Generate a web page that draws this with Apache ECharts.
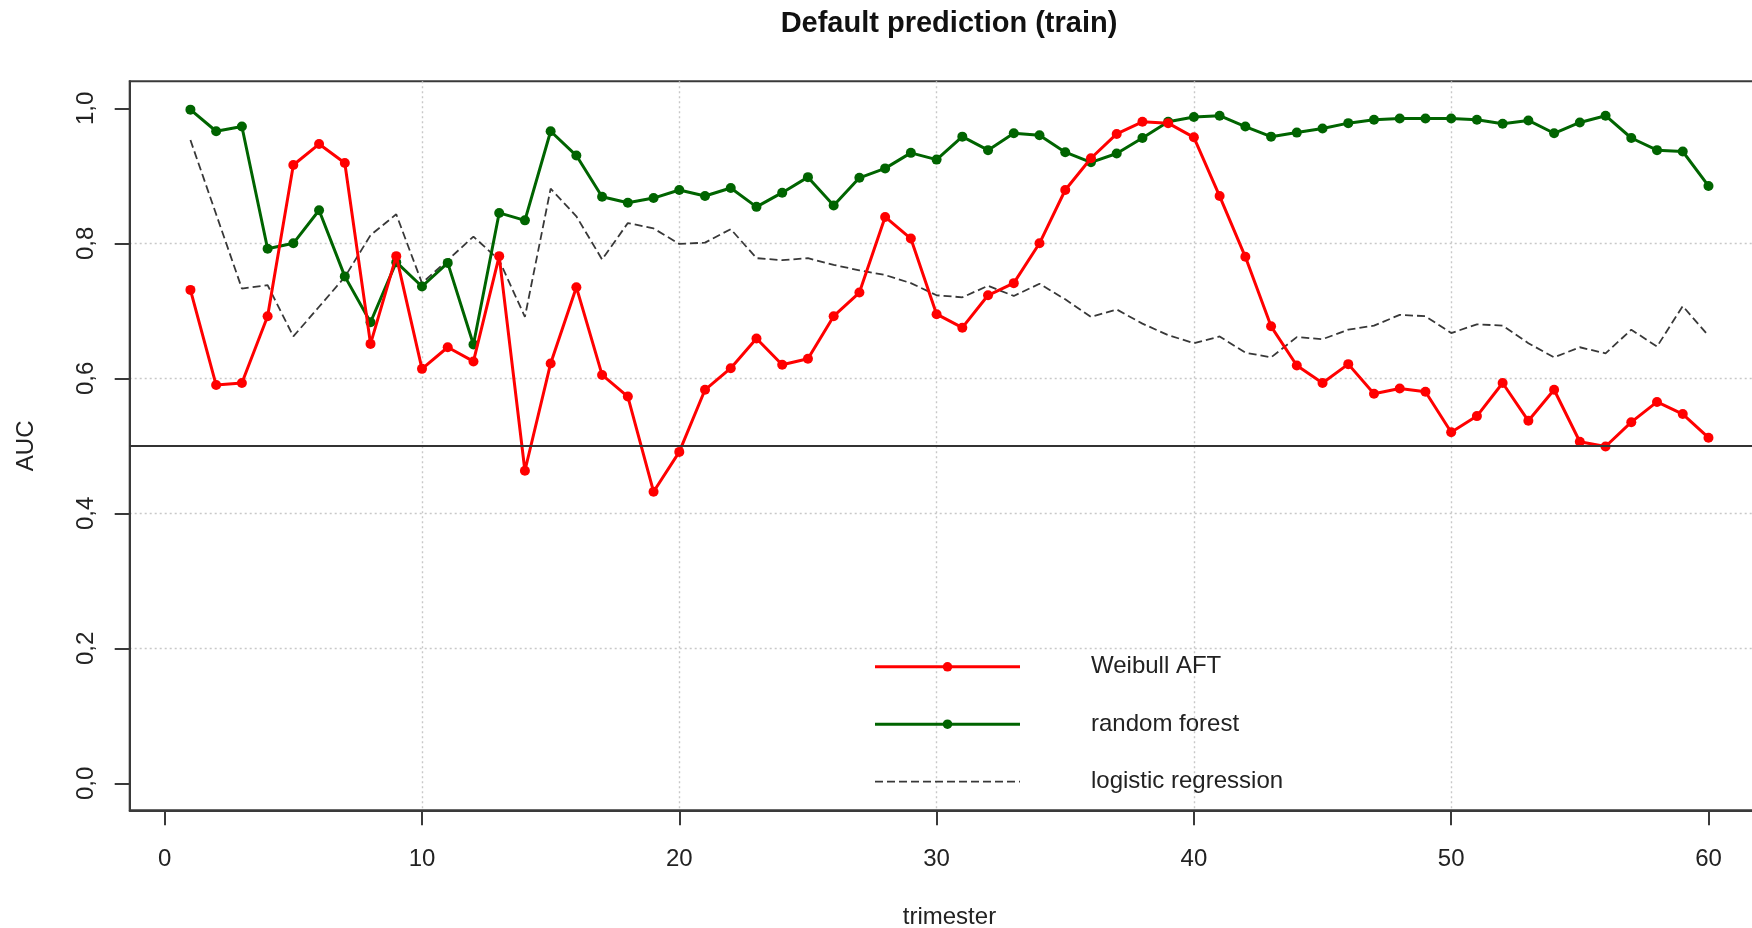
<!DOCTYPE html>
<html>
<head>
<meta charset="utf-8">
<script src="https://cdn.jsdelivr.net/npm/echarts@6/dist/echarts.min.js"></script>
<style>
html,body{margin:0;padding:0;background:#ffffff;}
#chart{width:1752px;height:928px;}
</style>
</head>
<body>
<div id="chart"></div>
<script>
const trimester = [1,2,3,4,5,6,7,8,9,10,11,12,13,14,15,16,17,18,19,20,21,22,23,24,25,26,27,28,29,30,31,32,33,34,35,36,37,38,39,40,41,42,43,44,45,46,47,48,49,50,51,52,53,54,55,56,57,58,59,60];

const weibullAFT = [0.731,0.590,0.593,0.692,0.916,0.947,0.919,0.651,0.781,0.614,
  0.646,0.625,0.781,0.463,0.622,0.735,0.605,0.573,0.432,0.491,
  0.583,0.615,0.659,0.620,0.629,0.692,0.727,0.839,0.807,0.695,
  0.675,0.723,0.741,0.800,0.879,0.926,0.962,0.980,0.978,0.957,
  0.870,0.780,0.677,0.619,0.593,0.621,0.577,0.585,0.580,0.520,
  0.544,0.593,0.537,0.583,0.506,0.499,0.535,0.565,0.547,0.512];

const randomForest = [0.998,0.966,0.973,0.792,0.800,0.849,0.751,0.683,0.772,0.736,
  0.771,0.650,0.845,0.834,0.966,0.930,0.869,0.860,0.867,0.879,
  0.870,0.882,0.854,0.875,0.898,0.856,0.897,0.911,0.934,0.924,
  0.958,0.938,0.963,0.960,0.935,0.920,0.933,0.956,0.980,0.987,
  0.989,0.973,0.958,0.964,0.970,0.978,0.983,0.985,0.985,0.985,
  0.983,0.977,0.982,0.963,0.979,0.989,0.956,0.938,0.936,0.885];

const logisticRegression = [0.953,0.843,0.733,0.738,0.662,0.706,0.750,0.812,0.843,0.741,
  0.775,0.810,0.775,0.691,0.881,0.840,0.776,0.830,0.822,0.799,
  0.801,0.821,0.778,0.775,0.778,0.768,0.760,0.753,0.741,0.723,
  0.720,0.737,0.722,0.740,0.717,0.691,0.702,0.681,0.664,0.652,
  0.662,0.638,0.631,0.661,0.658,0.672,0.678,0.694,0.692,0.667,
  0.680,0.678,0.652,0.631,0.646,0.637,0.672,0.647,0.707,0.663];

const xTicks = [0,10,20,30,40,50,60];
const yTicks = [0,0.2,0.4,0.6,0.8,1.0];
const referenceLine = 0.5;
const seriesNames = ['Weibull AFT','random forest','logistic regression'];

const FONT = '"Liberation Sans", Arial, sans-serif';
const pair = arr => trimester.map((t, i) => [t, arr[i]]);
const gridLine = {color:'#c8c8c8', width:1.4, type:[2,3]};
const axisColor = '#3a3a3a';

const chart = echarts.init(document.getElementById('chart'), null, {renderer:'canvas'});
chart.setOption({
  animation:false,
  backgroundColor:'#ffffff',
  title:{
    text:'Default prediction (train)',
    left:944, top:4, textAlign:'center',
    textStyle:{fontFamily:FONT, fontSize:29, fontWeight:'bold', color:'#111'}
  },
  legend:{
    data:[
      {name:seriesNames[0]},
      {name:seriesNames[1]},
      {name:seriesNames[2], itemStyle:{opacity:0}}
    ],
    orient:'vertical',
    left:868.5, top:649.8,
    itemWidth:145, itemHeight:12, itemGap:33.4,
    selectedMode:false,
    lineStyle:{width:'inherit'},
    textStyle:{fontFamily:FONT, fontSize:24, color:'#222', padding:[0,0,0,66]}
  },
  grid:{
    left:129.7, right:-17.2, top:81.3, bottom:117.7,
    show:true, borderColor:axisColor, borderWidth:2, backgroundColor:'transparent',
    containLabel:false, outerBoundsMode:'none'
  },
  xAxis:{
    type:'value', min:-1.36, max:62.36,
    name:'trimester', nameLocation:'middle', nameGap:95,
    nameTextStyle:{fontFamily:FONT, fontSize:24, color:'#222'},
    axisLine:{show:true, onZero:false, lineStyle:{color:axisColor, width:2}},
    axisTick:{show:true, length:15, customValues:xTicks, lineStyle:{color:axisColor, width:2}},
    axisLabel:{customValues:xTicks, margin:37, fontFamily:FONT, fontSize:24, color:'#222'},
    splitLine:{show:true, showMinLine:false, showMaxLine:false, lineStyle:gridLine}
  },
  yAxis:{
    type:'value', min:-0.04, max:1.04,
    name:'AUC', nameLocation:'middle', nameGap:91.7, nameRotate:90,
    nameTextStyle:{fontFamily:FONT, fontSize:24, color:'#222'},
    axisLine:{show:true, onZero:false, lineStyle:{color:axisColor, width:2}},
    axisTick:{show:true, length:15, customValues:yTicks, lineStyle:{color:axisColor, width:2}},
    axisLabel:{customValues:yTicks, rotate:90, margin:31.5, fontFamily:FONT, fontSize:24, color:'#222',
      formatter: v => v.toFixed(1).replace('.', ',')},
    splitLine:{show:true, showMinLine:false, showMaxLine:false, lineStyle:gridLine}
  },
  series:[
    {
      name:seriesNames[0], type:'line', data:pair(weibullAFT),
      symbol:'circle', symbolSize:10, z:4,
      itemStyle:{color:'#ff0000'}, lineStyle:{color:'#ff0000', width:3}
    },
    {
      name:seriesNames[1], type:'line', data:pair(randomForest),
      symbol:'circle', symbolSize:10, z:3,
      itemStyle:{color:'#006400'}, lineStyle:{color:'#006400', width:3}
    },
    {
      name:seriesNames[2], type:'line', data:pair(logisticRegression),
      symbol:'none', z:2,
      itemStyle:{color:'#383838'}, lineStyle:{color:'#383838', width:1.8, type:[8,4]},
      markLine:{
        silent:true, symbol:['none','none'], label:{show:false},
        lineStyle:{color:'#333333', width:2, type:'solid'},
        emphasis:{disabled:true},
        data:[{yAxis:referenceLine}]
      }
    }
  ]
});
</script>
</body>
</html>
